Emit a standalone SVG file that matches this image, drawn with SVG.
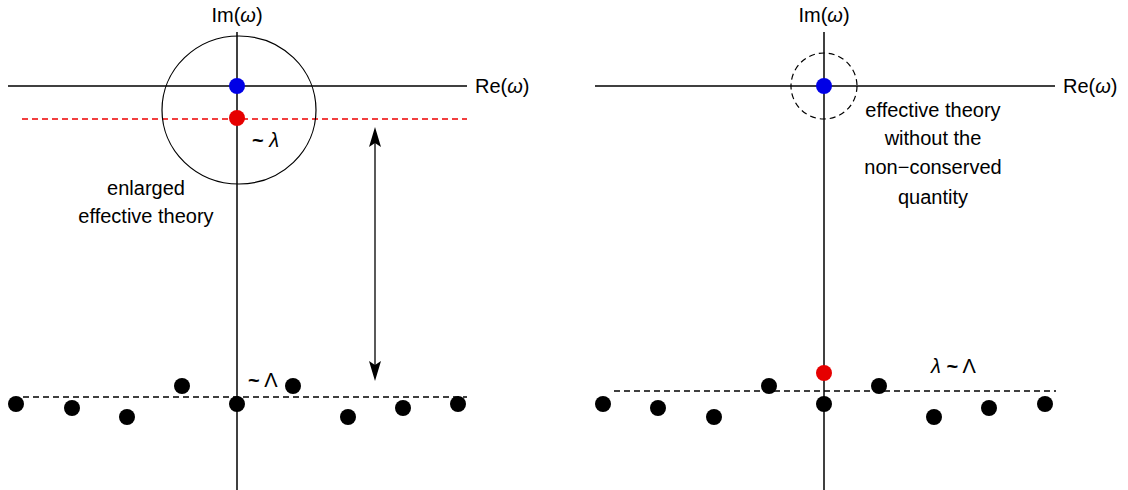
<svg xmlns="http://www.w3.org/2000/svg" width="1128" height="490" viewBox="0 0 1128 490">
<style>
text{font-family:"Liberation Sans",Arial,sans-serif;font-size:20px;fill:#000}
.ax{stroke:#000;stroke-width:1.5;fill:none}
.dash{stroke:#000;stroke-width:1.3;stroke-dasharray:6,4;fill:none}
.rdash{stroke:#e00;stroke-width:1.3;stroke-dasharray:6,4;fill:none}
.pole{fill:#000}
.mid{text-anchor:middle}
.t{font-weight:bold}
</style>
<g id="connectors">
<line class="ax" x1="237" y1="32" x2="237" y2="490"/>
<line class="ax" x1="8" y1="86" x2="467" y2="86"/>
<line class="rdash" x1="22" y1="119" x2="467" y2="119"/>
<line class="dash" x1="23" y1="397" x2="467" y2="397"/>
<ellipse class="ax" cx="239" cy="110" rx="77" ry="74" style="stroke-width:1.2"/>
<line x1="375" y1="140" x2="375" y2="368" stroke="#000" stroke-width="1.3"/>
<path d="M375,127 L381,147 L375,143 L369,147 Z" fill="#000"/>
<path d="M375,381 L381,361 L375,365 L369,361 Z" fill="#000"/>
<line class="ax" x1="824" y1="32" x2="824" y2="490"/>
<line class="ax" x1="595" y1="86" x2="1055" y2="86"/>
<circle class="dash" cx="824" cy="86" r="33" style="stroke-width:1.2"/>
<line class="dash" x1="614" y1="391" x2="1056" y2="391"/>
</g>
<g id="left-labels">
<text class="mid" x="237" y="22">Im(<tspan font-style="italic">ω</tspan>)</text>
<text x="475" y="93">Re(<tspan font-style="italic">ω</tspan>)</text>
<text x="252" y="147"><tspan class="t">~</tspan> <tspan font-style="italic">λ</tspan></text>
<text class="mid" x="146" y="195">enlarged</text>
<text class="mid" x="146" y="223">effective theory</text>
<text x="248" y="387"><tspan class="t">~</tspan> Λ</text>
</g>
<g id="left-poles">
<circle cx="237" cy="86" r="8" fill="#0000e6"/>
<circle cx="237" cy="118" r="8" fill="#e60000"/>
<circle class="pole" cx="16" cy="404" r="8"/>
<circle class="pole" cx="72" cy="408" r="8"/>
<circle class="pole" cx="127" cy="417" r="8"/>
<circle class="pole" cx="182" cy="386" r="8"/>
<circle class="pole" cx="237" cy="404" r="8"/>
<circle class="pole" cx="293" cy="386" r="8"/>
<circle class="pole" cx="348" cy="417" r="8"/>
<circle class="pole" cx="403" cy="408" r="8"/>
<circle class="pole" cx="458" cy="404" r="8"/>
</g>
<g id="right-labels">
<text class="mid" x="824" y="22">Im(<tspan font-style="italic">ω</tspan>)</text>
<text x="1063" y="93">Re(<tspan font-style="italic">ω</tspan>)</text>
<text class="mid" x="933" y="117">effective theory</text>
<text class="mid" x="933" y="145">without the</text>
<text class="mid" x="933" y="174">non−conserved</text>
<text class="mid" x="933" y="204">quantity</text>
<text x="931" y="373"><tspan font-style="italic">λ</tspan> <tspan class="t">~</tspan> Λ</text>
</g>
<g id="right-poles">
<circle cx="824" cy="86" r="8" fill="#0000e6"/>
<circle cx="824" cy="373" r="8" fill="#e60000"/>
<circle class="pole" cx="603" cy="404" r="8"/>
<circle class="pole" cx="658" cy="408" r="8"/>
<circle class="pole" cx="714" cy="417" r="8"/>
<circle class="pole" cx="769" cy="386" r="8"/>
<circle class="pole" cx="824" cy="404" r="8"/>
<circle class="pole" cx="879" cy="386" r="8"/>
<circle class="pole" cx="934" cy="417" r="8"/>
<circle class="pole" cx="989" cy="408" r="8"/>
<circle class="pole" cx="1045" cy="404" r="8"/>
</g>
</svg>
